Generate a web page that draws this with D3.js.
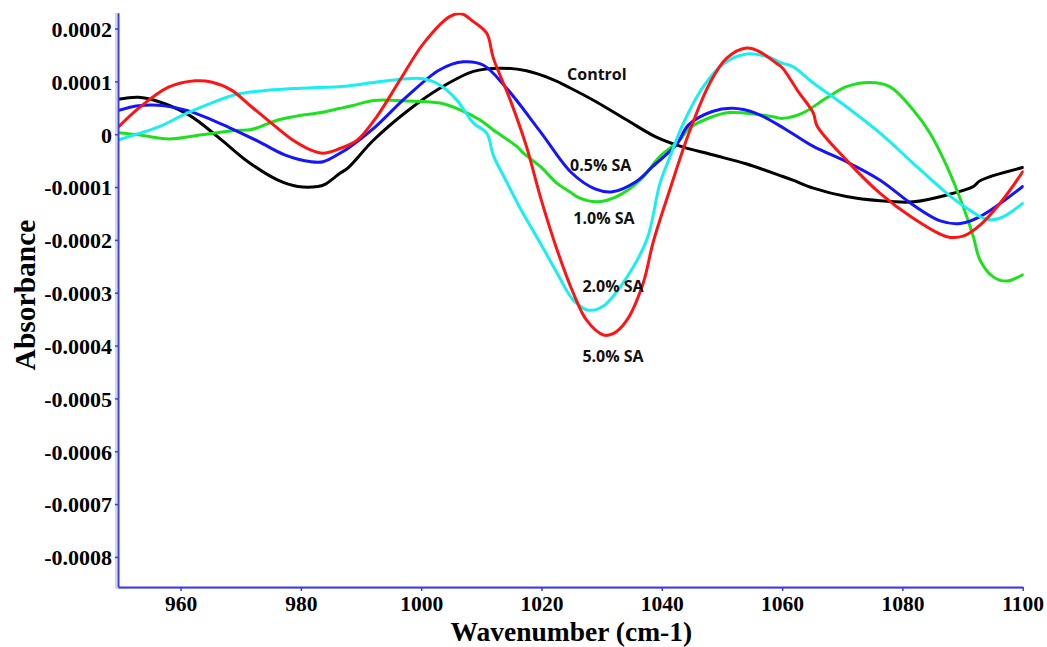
<!DOCTYPE html>
<html>
<head>
<meta charset="utf-8">
<script src="https://cdn.jsdelivr.net/npm/d3@7/dist/d3.min.js"></script>
<style>
  html, body { margin: 0; padding: 0; background: #fff; }
  svg { display: block; }
</style>
</head>
<body>
<svg id="chart" width="1047" height="647"></svg>
<script>
// ---------- data (absorbance values in units of 1e-4) ----------
const UNIT = 1e-4;
const wavenumberTicks = [960, 980, 1000, 1020, 1040, 1060, 1080, 1100];
const absorbanceTicks = [0.0002, 0.0001, 0, -0.0001, -0.0002, -0.0003, -0.0004, -0.0005, -0.0006, -0.0007, -0.0008];
const absorbanceTickLabels = ["0.0002", "0.0001", "0", "-0.0001", "-0.0002", "-0.0003", "-0.0004", "-0.0005", "-0.0006", "-0.0007", "-0.0008"];
const xDomain = [949.6, 1100];
const yDomain = [-0.000857, 0.00023];

const seriesNames = ["Control", "1.0% SA", "0.5% SA", "2.0% SA", "5.0% SA"];
const seriesColors = ["#000000", "#1ee11e", "#1414ff", "#19eef0", "#ff1414"];

const control = [
  [949.6,0.66],[953,0.70],[956.3,0.62],[961.3,0.37],[966.2,-0.05],[971.2,-0.52],[976.2,-0.87],
  [979.5,-0.99],[982.8,-0.99],[984,-0.95],[986.5,-0.74],[987.8,-0.64],[992.1,-0.11],[997.6,0.43],
  [1003.1,0.87],[1008.7,1.19],[1013.1,1.25],[1017.5,1.20],[1022,1.03],[1024.7,0.88],[1029,0.62],
  [1034.6,0.24],[1039,-0.05],[1042.9,-0.22],[1048.4,-0.39],[1054,-0.56],[1060.1,-0.80],[1061.8,-0.87],
  [1065.2,-1.02],[1070.7,-1.18],[1076.3,-1.26],[1081.8,-1.28],[1087.4,-1.15],[1091.8,-0.99],
  [1092.9,-0.88],[1100,-0.63]
];
const sa05 = [
  [949.6,0.45],[953,0.54],[956.3,0.55],[960.7,0.46],[964,0.33],[968,0.13],[973,-0.14],[977.3,-0.39],
  [981.7,-0.52],[983.7,-0.52],[986.5,-0.36],[987.8,-0.27],[992.1,0.11],[997.6,0.71],[1003.1,1.22],
  [1007,1.37],[1010.3,1.31],[1014.2,0.87],[1019.8,0.05],[1025,-0.73],[1029,-1.04],[1031.8,-1.09],
  [1035.7,-0.90],[1038.5,-0.61],[1042.4,-0.20],[1044.5,0.18],[1048.4,0.43],[1051.7,0.49],[1055.6,0.40],
  [1060.5,0.10],[1065.2,-0.23],[1070.7,-0.52],[1076.3,-0.87],[1081.8,-1.34],
  [1086.3,-1.64],[1089.6,-1.69],[1092.9,-1.56],[1100,-0.99]
];
const sa10 = [
  [949.6,0.03],[953,-0.01],[958,-0.09],[963.5,-0.01],[969,0.07],[971.8,0.09],[976.2,0.27],[980.6,0.37],
  [982.8,0.40],[986.5,0.49],[988.5,0.54],[992.1,0.64],[997.6,0.63],[1003.1,0.59],[1005.9,0.49],
  [1009.8,0.27],[1012,0.08],[1015.9,-0.23],[1017,-0.36],[1019.8,-0.61],[1022.6,-0.93],[1024.7,-1.09],
  [1026.4,-1.21],[1029.2,-1.28],[1032.5,-1.18],[1036.4,-0.87],[1039.7,-0.42],[1043,-0.11],[1044.5,0.11],
  [1048.4,0.33],[1051.2,0.41],[1055.6,0.38],[1058.9,0.32],[1060.1,0.30],[1063.4,0.40],[1067.3,0.68],
  [1070.7,0.90],[1074.6,0.98],[1077.9,0.90],[1081.8,0.46],[1084.6,0.02],[1087.4,-0.61],[1090.1,-1.37],
  [1091.8,-1.94],[1092.9,-2.38],[1095.1,-2.70],[1097.3,-2.78],[1100,-2.66]
];
const sa20 = [
  [949.6,-0.11],[953,0.01],[956.8,0.16],[960.7,0.38],[965.1,0.59],[969.5,0.76],[974.5,0.83],[980,0.87],
  [987.5,0.91],[992.1,0.98],[997.6,1.05],[1000.4,1.05],[1003.1,0.93],[1005.9,0.65],[1008.7,0.21],
  [1010.9,0.02],[1012,-0.40],[1014.2,-0.90],[1016.6,-1.43],[1019.8,-2.06],[1022.6,-2.63],[1025.3,-3.14],
  [1027.8,-3.33],[1030.3,-3.25],[1033.7,-2.79],[1037.5,-2.00],[1039.7,-0.93],[1041.4,-0.42],
  [1043.6,0.21],[1046.9,0.90],[1050.3,1.34],[1054.1,1.52],[1057.5,1.47],[1060.1,1.34],[1061.8,1.28],
  [1065.2,0.97],[1070.7,0.52],[1076.3,0.02],[1081.8,-0.55],[1087.4,-1.12],[1090.7,-1.40],[1094,-1.61],
  [1096.2,-1.59],[1100,-1.31]
];
const sa50 = [
  [949.6,0.13],[953,0.49],[958,0.89],[962.4,1.01],[965.1,0.99],[968.4,0.84],[971.8,0.52],[975.1,0.21],
  [978.4,-0.09],[981.7,-0.30],[983.7,-0.36],[986.5,-0.27],[989.3,-0.12],[992.6,0.33],[996.5,1.03],
  [1000.4,1.72],[1004.8,2.23],[1006.7,2.28],[1008.7,2.13],[1010.9,1.91],[1012,1.44],[1014.8,0.65],
  [1017.5,-0.23],[1019.8,-1.18],[1022.6,-2.19],[1025.3,-3.01],[1027.5,-3.52],[1030.3,-3.80],[1032,-3.77],
  [1034.2,-3.52],[1036.9,-2.82],[1038.6,-2.03],[1041.2,-1.10],[1044.6,0.05],[1048,0.97],[1050.8,1.44],
  [1054.1,1.63],[1056.3,1.56],[1059.1,1.34],[1060.1,1.25],[1062.6,0.82],[1065.2,0.40],[1065.8,0.16],
  [1070.7,-0.49],[1076.3,-1.12],[1081.8,-1.59],[1087.4,-1.94],[1090.1,-1.93],[1092.9,-1.72],
  [1096.2,-1.31],[1100,-0.71]
];
const seriesData = [control, sa10, sa05, sa20, sa50];

// annotation labels: text, wavenumber and absorbance (1e-4) of the label's left baseline
const labelTexts = ["Control", "0.5% SA", "1.0% SA", "2.0% SA", "5.0% SA"];
const labelWavenumbers = [1024.25, 1024.75, 1025.3, 1026.8, 1026.8];
const labelAbsorbances = [1.03, -0.69, -1.70, -2.98, -4.32];

// ---------- layout ----------
const svg = d3.select("#chart");
const mLeft = 118, mRight = 1022.7, mTop = 12.7, mBottom = 587;
const x = d3.scaleLinear().domain(xDomain).range([mLeft, mRight]);
const y = d3.scaleLinear().domain(yDomain).range([mBottom, mTop]);
const axisBlue = "#3a3af5";
const serif = "'Liberation Serif', 'Times New Roman', serif";

// shadow lines
svg.append("line").attr("x1", mLeft - 2).attr("x2", mLeft - 2).attr("y1", mTop).attr("y2", mBottom + 1)
  .attr("stroke", "#c8c8c8").attr("stroke-width", 1.5);
svg.append("line").attr("x1", mLeft - 2).attr("x2", mRight).attr("y1", mBottom + 1.5).attr("y2", mBottom + 1.5)
  .attr("stroke", "#d0d0d0").attr("stroke-width", 1);

// series lines
const line = d3.line()
  .x(d => x(d[0]))
  .y(d => y(d[1] * UNIT))
  .curve(d3.curveCatmullRom.alpha(0.5));

svg.append("defs").append("clipPath").attr("id", "clip")
  .append("rect").attr("x", mLeft).attr("y", mTop).attr("width", mRight - mLeft + 1).attr("height", mBottom - mTop);

const g = svg.append("g").attr("clip-path", "url(#clip)");
seriesData.forEach((s, i) => {
  g.append("path")
    .datum(s)
    .attr("d", line)
    .attr("fill", "none")
    .attr("stroke", seriesColors[i])
    .attr("stroke-width", 3)
    .attr("stroke-linejoin", "round")
    .attr("stroke-linecap", "round")
    .attr("data-name", seriesNames[i]);
});

// axes
const yAxis = d3.axisLeft(y)
  .tickValues(absorbanceTicks)
  .tickFormat((d, i) => absorbanceTickLabels[i])
  .tickSize(3).tickPadding(3).tickSizeOuter(0);
const ya = svg.append("g").attr("transform", `translate(${mLeft},0)`).call(yAxis);

const xAxis = d3.axisBottom(x)
  .tickValues(wavenumberTicks)
  .tickFormat(d3.format("d"))
  .tickSize(4).tickPadding(5).tickSizeOuter(0);
const xa = svg.append("g").attr("transform", `translate(0,${mBottom})`).call(xAxis);

[ya, xa].forEach(a => {
  a.select(".domain").attr("stroke", axisBlue).attr("stroke-width", 2);
  a.selectAll(".tick line").attr("stroke", axisBlue).attr("stroke-width", 1.5);
  a.selectAll(".tick text")
    .attr("fill", "#000")
    .style("font-family", serif)
    .style("font-weight", "bold")
    .style("font-size", "22px");
});
ya.selectAll(".tick text").attr("dy", "0.36em");
xa.selectAll(".tick text").style("font-size", "21.5px");

// axis titles
svg.append("text")
  .attr("x", (mLeft + mRight) / 2 + 1).attr("y", 641)
  .attr("text-anchor", "middle")
  .style("font-family", serif).style("font-weight", "bold").style("font-size", "27.5px")
  .text("Wavenumber (cm-1)");

svg.append("text")
  .attr("transform", `translate(35,295) rotate(-90)`)
  .attr("text-anchor", "middle")
  .style("font-family", serif).style("font-weight", "bold").style("font-size", "29.5px")
  .text("Absorbance");

// series labels
labelTexts.forEach((t, i) => {
  svg.append("text")
    .attr("x", x(labelWavenumbers[i]))
    .attr("y", y(labelAbsorbances[i] * UNIT))
    .style("font-family", "'Open Sans', sans-serif")
    .style("font-weight", "bold")
    .style("font-size", "16px")
    .attr("fill", "#111")
    .text(t);
});
</script>
</body>
</html>
